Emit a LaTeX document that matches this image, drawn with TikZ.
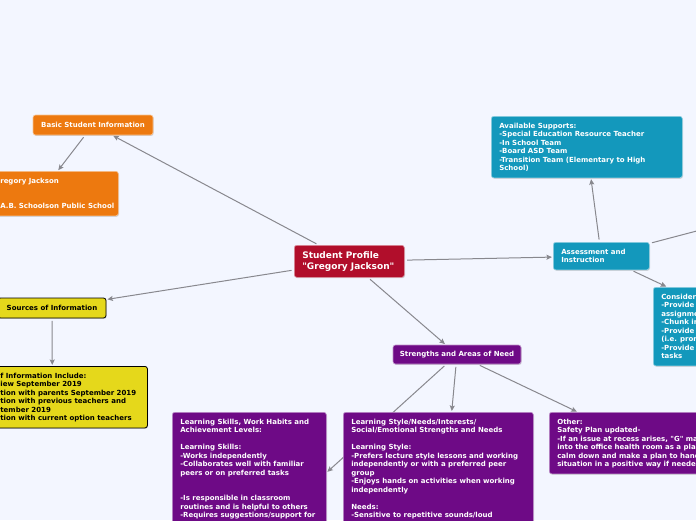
\documentclass[tikz,border=0pt]{standalone}
\usepackage{fontspec}
\newfontfamily\dvs{DejaVu Sans}
\usetikzlibrary{arrows.meta,shadows}
\definecolor{bgc}{RGB}{243,246,255}
\definecolor{orng}{RGB}{237,121,15}
\definecolor{crim}{RGB}{177,14,43}
\definecolor{tealc}{RGB}{19,152,188}
\definecolor{purp}{RGB}{110,10,134}
\definecolor{yell}{RGB}{229,216,27}
\definecolor{lnc}{RGB}{136,136,142}
\pgfdeclarelayer{bg}
\pgfsetlayers{bg,main}
\newcommand{\bx}[3][0pt]{\makebox[#2][l]{\hspace{#1}\begin{tabular}{@{}l@{}}\rule{0pt}{7.5pt}#3\end{tabular}}}
\tikzset{
  base/.style={rectangle, rounded corners=2.5pt, font=\dvs\fontsize{7}{8.5}\selectfont\bfseries,
    inner xsep=8pt, inner ysep=4.5pt,
    drop shadow={shadow xshift=0.7pt, shadow yshift=-0.9pt, opacity=0.3}},
  orbox/.style={base, fill=orng, draw=white!55!orng, line width=0.6pt, text=white},
  tlbox/.style={base, fill=tealc, draw=white!55!tealc, line width=0.6pt, text=white},
  pubox/.style={base, fill=purp, draw=white!55!purp, line width=0.6pt, text=white},
  yebox/.style={base, fill=yell, draw=black, line width=0.8pt, text=black},
  rootbox/.style={base, fill=crim, draw=white!55!crim, line width=0.6pt, text=white,
    font=\dvs\fontsize{9}{11}\selectfont\bfseries},
  single/.style={inner sep=0pt, anchor=center},
  conn/.style={draw=lnc, line width=1pt, shorten <=2.5pt, shorten >=1pt,
    -{Stealth[length=5.5pt,width=5pt,inset=1pt]}},
  plainconn/.style={draw=lnc, line width=1pt, shorten <=2.5pt}
}
\begin{document}
\begin{tikzpicture}[x=1pt,y=-1pt]
\useasboundingbox (0,0) rectangle (696,520);

% root
\node[rootbox, anchor=north west] (root) at (294,245)
  {\makebox[94pt][l]{\begin{tabular}{@{}l@{}}\rule{0pt}{8.7pt}Student Profile\\"Gregory Jackson"\end{tabular}}};

% orange branch
\node[orbox, single, minimum width=120pt, minimum height=20pt] (basic) at (93,125) {Basic Student Information};
\node[orbox, anchor=north west] (greg) at (-38,171)
  {\bx[30pt]{140pt}{regory Jackson\\ \\ \\A.B. Schoolson Public School}};

% yellow branch
\node[yebox, single, minimum width=108pt, minimum height=20pt] (src) at (52,308) {Sources of Information};
\node[yebox, anchor=north west] (srcsub) at (-43,366)
  {\bx[35pt]{174pt}{f Information Include:\\iew September 2019\\tion with parents September 2019\\tion with previous teachers and\\tember 2019\\tion with current option teachers}};

% teal branch
\node[tlbox, anchor=north west] (assess) at (553,242)
  {\bx{80pt}{Assessment and\\Instruction}};
\node[tlbox, anchor=north west] (avail) at (491,116)
  {\bx{175pt}{Available Supports:\\-Special Education Resource Teacher\\-In School Team\\-Board ASD Team\\-Transition Team (Elementary to High\\School)}};
\node[tlbox, anchor=north west] (cons) at (653,287)
  {\bx{180pt}{Consider\\-Provide\\assignme\\-Chunk in\\-Provide\\(i.e. pron\\-Provide\\tasks}};
\coordinate (offr) at (740,219.6);

% purple branch
\node[pubox, single, minimum width=128pt, minimum height=19pt] (str) at (457,354.5) {Strengths and Areas of Need};
\node[pubox, anchor=north west] (ls) at (172,412)
  {\bx{138pt}{Learning Skills, Work Habits and\\Achievement Levels:\\ \\Learning Skills:\\-Works independently\\-Collaborates well with familiar\\peers or on preferred tasks\\ \\ \\-Is responsible in classroom\\routines and is helpful to others\\-Requires suggestions/support for\rule[-150pt]{0pt}{0pt}}};
\node[pubox, anchor=north west] (mid) at (343,412)
  {\bx{174pt}{Learning Style/Needs/Interests/\\Social/Emotional Strengths and Needs\\ \\Learning Style:\\-Prefers lecture style lessons and working\\independently or with a preferred peer\\group\\-Enjoys hands on activities when working\\independently\\ \\Needs:\\-Sensitive to repetitive sounds/loud\rule[-183pt]{0pt}{0pt}}};
\node[pubox, anchor=north west] (oth) at (549,412)
  {\bx{171pt}{Other:\\Safety Plan updated-\\-If an issue at recess arises, "G" ma\\into the office health room as a pla\\calm down and make a plan to hand\\situation in a positive way if neede}};

\begin{pgfonlayer}{bg}
\fill[bgc] (0,0) rectangle (696,520);
\draw[conn] (root) -- (basic);
\draw[conn] (basic) -- (greg);
\draw[conn] (root) -- (src);
\draw[conn] (src) -- (srcsub);
\draw[conn] (root) -- (assess);
\draw[conn] (assess) -- (avail);
\draw[conn] (assess) -- (cons);
\draw[plainconn] (assess) -- (offr);
\draw[conn] (root) -- (str);
\draw[conn] (str) -- (ls);
\draw[conn] (str) -- (mid);
\draw[conn] (str) -- (oth);
\end{pgfonlayer}
\end{tikzpicture}
\end{document}
